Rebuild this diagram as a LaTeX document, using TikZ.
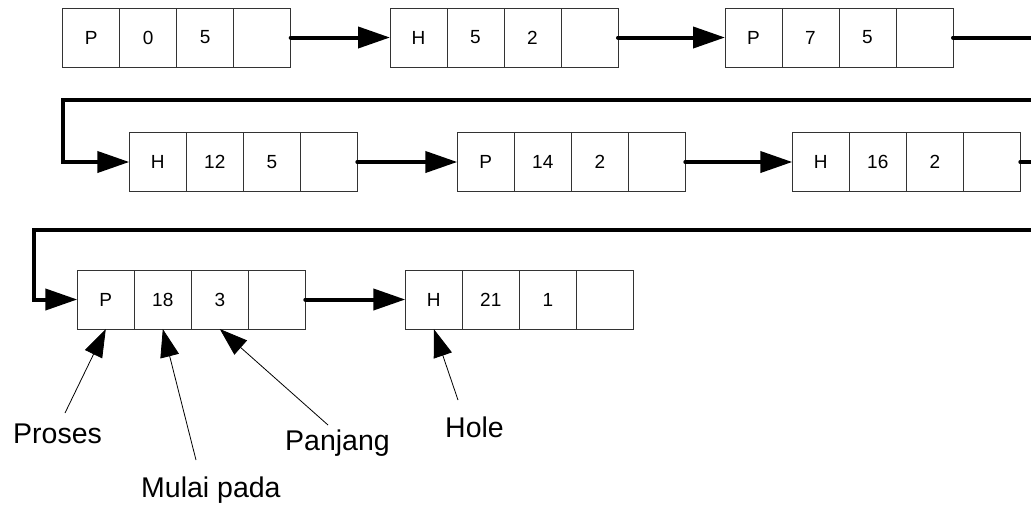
\documentclass[tikz,border=0pt]{standalone}
\usepackage{fontspec}
\setmainfont{Liberation Sans}
\usetikzlibrary{arrows.meta}
\tikzset{
  cell/.style={draw=black!80, line width=0.8pt, minimum width=57pt, minimum height=59pt,
    inner sep=0pt, outer sep=0pt, anchor=north west, font=\fontsize{19}{22}\selectfont},
  link/.style={line width=4pt, line cap=round, line join=miter, -{Triangle[length=32pt,width=21pt]}},
  lab/.style={font=\fontsize{28.5}{33}\selectfont, inner sep=0pt, anchor=base west},
  labarrow/.style={line width=0.8pt, -{Triangle[length=28pt,width=19pt]}}
}
\newcommand\myrec[6]{%
  \node[cell] (#1a) at (#2,#3) {#4};
  \node[cell] (#1b) at (#2+57,#3) {#5};
  \node[cell] (#1c) at (#2+114,#3) {#6};
  \node[cell] (#1d) at (#2+171,#3) {};
}
\begin{document}
\begin{tikzpicture}[x=1pt,y=-1pt]
  \useasboundingbox (0,0) rectangle (1031,504);
  \clip (0,0) rectangle (1031,504);
  % records
  \myrec{A}{62.7}{8}{P}{0}{5}
  \myrec{B}{390}{8}{H}{5}{2}
  \myrec{C}{725}{8}{P}{7}{5}
  \myrec{D}{129.3}{132.5}{H}{12}{5}
  \myrec{E}{457.3}{132.5}{P}{14}{2}
  \myrec{F}{792.3}{132.5}{H}{16}{2}
  \myrec{G}{77.3}{270}{P}{18}{3}
  \myrec{K}{405.3}{270}{H}{21}{1}
  % links
  \draw[link] (Ad.east) -- (Ba.west);
  \draw[link] (Bd.east) -- (Ca.west);
  \draw[link] (Cd.east) -- ++(100,0) |- (63,100) |- (Da.west);
  \draw[link] (Dd.east) -- (Ea.west);
  \draw[link] (Ed.east) -- (Fa.west);
  \draw[link] (Fd.east) -- ++(100,0) |- (33.5,230) |- (Ga.west);
  \draw[link] (Gd.east) -- (Ka.west);
  % labels
  \node[lab] (proses) at (13,443) {Proses};
  \node[lab] (mulai) at (141,497) {Mulai pada};
  \node[lab] (panjang) at (285,450) {Panjang};
  \node[lab] (hole) at (445,437) {Hole};
  \coordinate (tP) at (65,413);
  \coordinate (tM) at (196,460);
  \coordinate (tJ) at (328,425);
  \coordinate (tH) at (458,400);
  \draw[labarrow] (tP) -- (Ga.south);
  \draw[labarrow] (tM) -- (Gb.south);
  \draw[labarrow] (tJ) -- (Gc.south);
  \draw[labarrow] (tH) -- (Ka.south);
\end{tikzpicture}
\end{document}
